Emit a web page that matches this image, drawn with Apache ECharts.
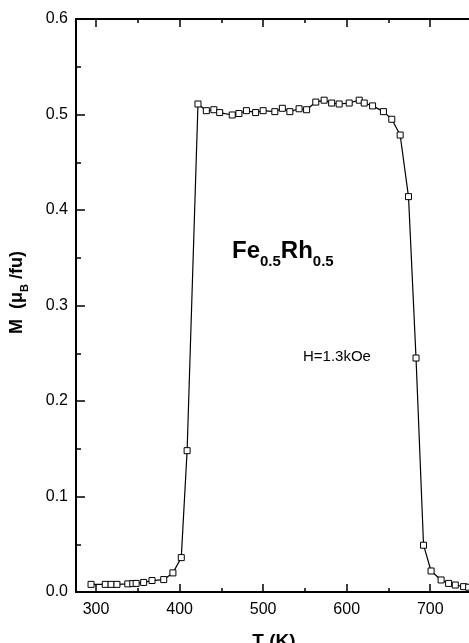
<!DOCTYPE html>
<html>
<head>
    <meta charset="utf-8">
    <title>FeRh M(T)</title>
    <script src="https://cdn.jsdelivr.net/npm/echarts@6/dist/echarts.min.js"></script>
    <style>
        html, body { margin: 0; padding: 0; background: #fff; }
    </style>
</head>
<body>
    <div id="container" style="width: 469px;height:643px;"></div>
    <script type="text/javascript">
        // temperature (K) and magnetisation (muB/fu)
        var temps = [294, 311, 318, 325, 338, 344, 348, 357, 367, 381,
                     392, 402, 409, 422, 432, 441, 448, 463, 471, 480,
                     491, 500, 514, 523, 532, 543, 552, 563, 573, 582,
                     591, 603, 615, 621, 631, 644, 654, 664, 674, 683,
                     692, 701, 713, 722, 730, 740, 746];
        var moments = [0.008, 0.008, 0.008, 0.008, 0.0085, 0.0088, 0.009, 0.010, 0.012, 0.013,
                       0.020, 0.036, 0.148, 0.511, 0.504, 0.505, 0.502, 0.4995, 0.501, 0.504,
                       0.502, 0.504, 0.503, 0.5065, 0.503, 0.506, 0.505, 0.513, 0.515, 0.512,
                       0.511, 0.512, 0.515, 0.512, 0.509, 0.503, 0.495, 0.4785, 0.414, 0.245,
                       0.049, 0.022, 0.0126, 0.009, 0.0073, 0.0056, 0.005];
        var xMajor = [300, 400, 500, 600, 700];
        var xMinor = [350, 450, 550, 650, 750];

        var points = temps.map(function (t, i) { return [t, moments[i]]; });

        var font = '"Liberation Sans", Arial, sans-serif';
        var xMin = 276, xMax = 750;

        function xAx(pos, ticks, len, withLabels) {
            return {
                type: 'value',
                position: pos,
                min: xMin,
                max: xMax,
                axisLine: { show: true, lineStyle: { color: '#000', width: 2 } },
                axisTick: { show: true, inside: true, length: len, customValues: ticks,
                            lineStyle: { color: '#000', width: 1.5 } },
                axisLabel: withLabels ? { show: true, customValues: xMajor, margin: 10,
                            color: '#000', fontSize: 16, fontFamily: font } : { show: false },
                splitLine: { show: false }
            };
        }

        var myChart = echarts.init(document.getElementById('container'));
        var xs = [xAx('bottom', xMajor, 8, true), xAx('bottom', xMinor, 4, false),
                  xAx('top', xMajor, 8, false), xAx('top', xMinor, 4, false)];
        xs[0].name = 'T (K)';
        xs[0].nameLocation = 'middle';
        xs[0].nameGap = 40;
        xs[0].nameTextStyle = { color: '#000', fontSize: 19, fontWeight: 'bold', fontFamily: font };

        var option = {
            animation: false,
            backgroundColor: '#fff',
            grid: { left: 76, right: -3, top: 19, bottom: 51, outerBoundsMode: 'none', containLabel: false },
            xAxis: xs,
            yAxis: {
                type: 'value',
                min: 0,
                max: 0.6,
                interval: 0.1,
                name: '{b|M  (μ}{s|B}{b| /fu)}',
                nameLocation: 'middle',
                nameRotate: 90,
                nameGap: 48,
                nameTextStyle: {
                    padding: [0, 0, 0, 26],
                    rich: {
                        b: { fontSize: 18, fontWeight: 'bold', fontFamily: font, color: '#000', lineHeight: 20, verticalAlign: 'top' },
                        s: { fontSize: 11, fontWeight: 'bold', fontFamily: font, color: '#000', lineHeight: 11, verticalAlign: 'top', padding: [11, 0, 0, 0] }
                    }
                },
                axisLine: { show: true, lineStyle: { color: '#000', width: 2 } },
                axisTick: { show: true, inside: true, length: 9, lineStyle: { color: '#000', width: 1.5 } },
                minorTick: { show: true, splitNumber: 2, length: 5, lineStyle: { color: '#000', width: 1.5 } },
                axisLabel: {
                    color: '#000', fontSize: 16, fontFamily: font, margin: 8,
                    formatter: function (v) { return v.toFixed(1); }
                },
                splitLine: { show: false }
            },
            graphic: [
                {
                    type: 'text', left: 232, top: 239,
                    style: {
                        text: '{b|Fe}{s|0.5}{b|Rh}{s|0.5}',
                        rich: {
                            b: { fontSize: 24, fontWeight: 'bold', fontFamily: font, fill: '#000', lineHeight: 26, verticalAlign: 'top' },
                            s: { fontSize: 15, fontWeight: 'bold', fontFamily: font, fill: '#000', lineHeight: 15, verticalAlign: 'top', padding: [15, 0, 0, 0] }
                        }
                    }
                },
                {
                    type: 'text', left: 303, top: 349,
                    style: { text: 'H=1.3kOe', fontSize: 15, fontFamily: font, fill: '#000' }
                }
            ],
            series: [
                {
                    type: 'line',
                    data: points,
                    symbol: 'rect',
                    symbolSize: 6,
                    itemStyle: { color: '#fff', borderColor: '#000', borderWidth: 1 },
                    lineStyle: { color: '#000', width: 1.2 }
                }
            ]
        };

        myChart.setOption(option);
    </script>
</body>
</html>
